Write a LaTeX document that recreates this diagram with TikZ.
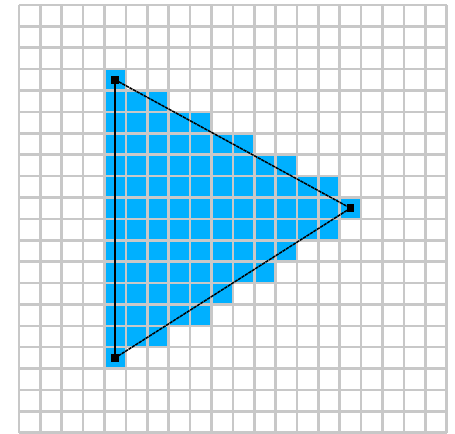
\documentclass[tikz,border=0pt]{standalone}
\definecolor{cellblue}{RGB}{0,176,255}
\definecolor{gridgray}{RGB}{200,200,200}
\begin{document}
\begin{tikzpicture}[x=0.5cm,y=0.5cm,
  gridline/.style={draw=gridgray,line width=1.7pt,step=0.5cm},
  vtx/.style={rectangle,fill=black,inner sep=0pt,minimum size=5pt},
  edgeside/.style={draw=black,line width=1.3pt},
  edgediag/.style={draw=black,line width=1pt,dash pattern=on 2.2pt off 0.5pt}]
\useasboundingbox (-0.888,0.234) rectangle (20.389,-20.014);
\fill[white] (-0.888,0.234) rectangle (20.389,-20.014);
% rasterised cells: row / last column (first column is 4)
\foreach \r/\e in {3/4,4/6,5/8,6/10,7/12,8/14,9/15,10/14,11/12,12/11,13/9,14/8,15/6,16/4}
  \fill[cellblue] (4,-\r) rectangle (\e+1,-\r-1);
\draw[gridline] (0,-20) grid (20,0);
\node[vtx] (a) at (4.5,-3.5) {};
\node[vtx] (b) at (15.5,-9.5) {};
\node[vtx] (c) at (4.5,-16.5) {};
\draw[edgeside] (a.center) -- (c.center);
\draw[edgediag] (a.center) -- (b.center);
\draw[edgediag] (b.center) -- (c.center);
\end{tikzpicture}
\end{document}
